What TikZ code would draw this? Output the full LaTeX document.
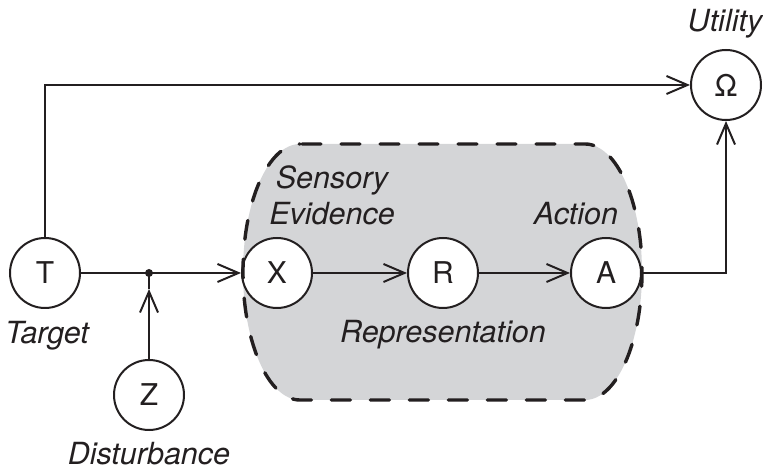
\documentclass[tikz,border=0pt]{standalone}
\usepackage{fontspec}
\setmainfont{TeX Gyre Heros}
\usetikzlibrary{arrows.meta}
\definecolor{ink}{RGB}{35,31,32}
\definecolor{regiongray}{RGB}{212,213,215}
\tikzset{
  var/.style={circle, draw=ink, line width=2pt, fill=white, minimum size=70pt,
              inner sep=0pt, font=\fontsize{30}{34}\selectfont, text=ink},
  lbl/.style={anchor=base, font=\fontsize{30.5}{35}\selectfont\itshape, text=ink, inner sep=0pt},
  link/.style={draw=ink, line width=2pt},
  arr/.style={link, -{Straight Barb[length=21pt, width=18pt, line width=2pt]}},
  junction/.style={circle, fill=ink, inner sep=0pt, minimum size=8pt},
  boundary/.style={draw=ink, line width=3.4pt, line cap=round, dash pattern=on 19pt off 20pt, dash phase=-2pt}
}
\begin{document}
\begin{tikzpicture}[x=1pt, y=1pt]
  \useasboundingbox (0,0) rectangle (763,471);

  % shaded agent region
  \path[fill=regiongray] (300,327) -- (585,327)
    arc[start angle=90, end angle=-90, x radius=57pt, y radius=128pt]
    -- (300,71)
    arc[start angle=-90, end angle=-270, x radius=57pt, y radius=128pt] -- cycle;

  % variables
  \node[var] (T) at (45,198) {T};
  \node[var] (X) at (277,198) {X};
  \node[var] (R) at (443,198) {R};
  \node[var] (A) at (606,198) {A};
  \node[var] (U) at (726,386) {Ω};
  \node[var] (Z) at (149,76) {Z};
  \node[junction] (J) at (149,198) {};
  \coordinate (Jtip) at (149,182);

  % dashed outline of the agent
  \path[boundary] (300,327) -- (585,327)
    arc[start angle=90, end angle=-90, x radius=57pt, y radius=128pt]
    -- (300,71)
    arc[start angle=-90, end angle=-270, x radius=57pt, y radius=128pt] -- cycle;

  % connections
  \draw[arr] (T.north) |- (U.west);
  \draw[arr] (T.east) -- (X.west);
  \draw[link] (Jtip) -- (J.center);
  \draw[arr] (Z.north) -- (Jtip);
  \draw[arr] (X.east) -- (R.west);
  \draw[arr] (R.east) -- (A.west);
  \draw[arr] (A.east) -| (U.south);

  % labels
  \node[lbl] (lT) at (47,127) {Target};
  \node[lbl] (lZ) at (149,6) {Disturbance};
  \node[lbl] (lX1) at (332,282) {Sensory};
  \node[lbl] (lX2) at (332,246) {Evidence};
  \node[lbl] (lA) at (576,246) {Action};
  \node[lbl] (lR) at (443,128) {Representation};
  \node[lbl] (lU) at (725,439) {Utility};
\end{tikzpicture}
\end{document}
